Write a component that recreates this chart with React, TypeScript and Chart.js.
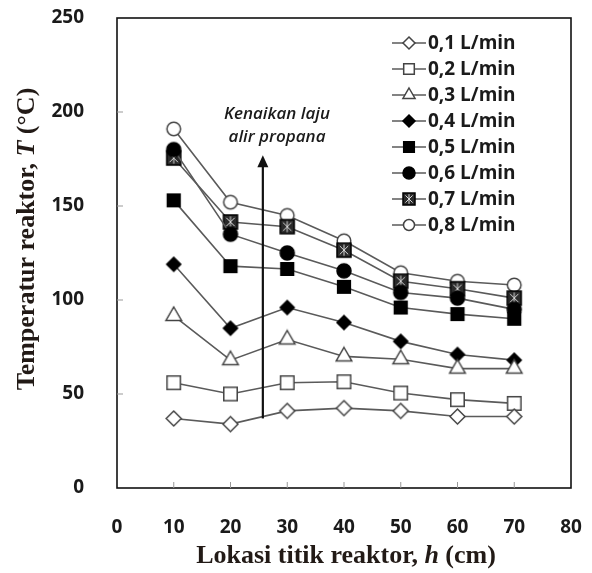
import React, { useEffect, useRef } from "react";
import { Chart, registerables } from "chart.js";

Chart.register(...registerables);

const positions = [10, 20, 30, 40, 50, 60, 70];
const flowLabels = ["0,1 L/min", "0,2 L/min", "0,3 L/min", "0,4 L/min", "0,5 L/min", "0,6 L/min", "0,7 L/min", "0,8 L/min"];
const t01 = [37, 34, 41, 42.5, 41, 38, 38];
const t02 = [56, 50, 56, 56.5, 50.5, 47, 45];
const t03 = [91.5, 68, 79, 70, 68.5, 63.5, 63.5];
const t04 = [119, 85, 96, 88, 78, 71, 68];
const t05 = [153, 118, 116.5, 107, 96, 92.5, 90];
const t06 = [180, 135, 125, 115.5, 104, 101, 95];
const t07 = [175.5, 141.5, 139, 126.5, 110, 106, 101];
const t08 = [191, 152, 145, 131.5, 114.5, 110, 108];
const seriesValues = [t01, t02, t03, t04, t05, t06, t07, t08];
const xTicks = [0, 10, 20, 30, 40, 50, 60, 70, 80];
const yTicks = [0, 50, 100, 150, 200, 250];
const annotationLines = ["Kenaikan laju", "alir propana"];

type MarkerSpec = { style: string; filled: boolean; r: number; lr: number };
const markers: MarkerSpec[] = [
  { style: "diamond", filled: false, r: 7.5, lr: 6 },
  { style: "square", filled: false, r: 9.5, lr: 7.5 },
  { style: "triangle", filled: false, r: 9, lr: 7 },
  { style: "diamond", filled: true, r: 7, lr: 6 },
  { style: "square", filled: true, r: 9, lr: 7.5 },
  { style: "circle", filled: true, r: 7, lr: 6 },
  { style: "star", filled: true, r: 7, lr: 6 },
  { style: "circle", filled: false, r: 6.8, lr: 5.5 },
];

const LINE = "#5a5a5a";
const EDGE = "#444";

function drawMarker(ctx: CanvasRenderingContext2D, m: MarkerSpec, x: number, y: number, r: number) {
  ctx.save();
  ctx.lineWidth = 1.5;
  ctx.strokeStyle = m.filled ? "#000" : EDGE;
  ctx.fillStyle = m.filled ? "#000" : "#fff";
  ctx.beginPath();
  if (m.style === "diamond") {
    ctx.moveTo(x, y - r); ctx.lineTo(x + r, y); ctx.lineTo(x, y + r); ctx.lineTo(x - r, y); ctx.closePath();
  } else if (m.style === "square" || m.style === "star") {
    const h = m.style === "star" ? r : r * Math.SQRT1_2;
    ctx.rect(x - h, y - h, 2 * h, 2 * h);
  } else if (m.style === "triangle") {
    ctx.moveTo(x, y - r);
    ctx.lineTo(x + r * 0.866, y + r * 0.5);
    ctx.lineTo(x - r * 0.866, y + r * 0.5);
    ctx.closePath();
  } else {
    ctx.arc(x, y, r, 0, Math.PI * 2);
  }
  if (m.style === "star") ctx.fillStyle = "#2a2a2a";
  ctx.fill();
  ctx.stroke();
  if (m.style === "star") {
    ctx.strokeStyle = "#d8d8d8";
    ctx.lineWidth = 1;
    const a = r * 0.6;
    ctx.beginPath();
    ctx.moveTo(x - a, y - a); ctx.lineTo(x + a, y + a);
    ctx.moveTo(x + a, y - a); ctx.lineTo(x - a, y + a);
    ctx.moveTo(x, y - r * 0.8); ctx.lineTo(x, y + r * 0.8);
    ctx.stroke();
  }
  ctx.restore();
}

function markerCanvas(m: MarkerSpec): HTMLCanvasElement {
  const dpr = window.devicePixelRatio || 1;
  const size = Math.ceil(m.r * 2 + 4);
  const c = document.createElement("canvas");
  c.width = size * dpr;
  c.height = size * dpr;
  c.style.width = size + "px";
  c.style.height = size + "px";
  const ctx = c.getContext("2d")!;
  ctx.scale(dpr, dpr);
  drawMarker(ctx, m, size / 2, size / 2, m.r);
  return c;
}

function drawRich(ctx: CanvasRenderingContext2D, parts: { t: string; font: string }[], cx: number, cy: number) {
  let total = 0;
  for (const p of parts) { ctx.font = p.font; total += ctx.measureText(p.t).width; }
  let x = cx - total / 2;
  ctx.textAlign = "left";
  ctx.textBaseline = "middle";
  for (const p of parts) { ctx.font = p.font; ctx.fillText(p.t, x, cy); x += ctx.measureText(p.t).width; }
}

const decorPlugin = {
  id: "decor",
  afterDraw(chart: any) {
    const { ctx, chartArea: a, scales } = chart;
    const xs = scales.x, ys = scales.y;
    ctx.save();
    ctx.strokeStyle = "#111";
    ctx.lineWidth = 1.6;
    ctx.strokeRect(a.left, a.top, a.right - a.left, a.bottom - a.top);
    ctx.strokeStyle = "#999";
    ctx.lineWidth = 1;
    ctx.beginPath();
    for (const v of xTicks.slice(1, -1)) {
      const px = xs.getPixelForValue(v);
      ctx.moveTo(px, a.bottom); ctx.lineTo(px, a.bottom - 6);
    }
    for (const v of yTicks.slice(1, -1)) {
      const py = ys.getPixelForValue(v);
      ctx.moveTo(a.left, py); ctx.lineTo(a.left + 6, py);
    }
    ctx.stroke();

    const ax = xs.getPixelForValue(25.7);
    const y0 = ys.getPixelForValue(37);
    const y1 = ys.getPixelForValue(177);
    ctx.strokeStyle = "#111";
    ctx.fillStyle = "#111";
    ctx.lineWidth = 2.2;
    ctx.beginPath();
    ctx.moveTo(ax, y0); ctx.lineTo(ax, y1 + 10);
    ctx.stroke();
    ctx.beginPath();
    ctx.moveTo(ax, y1); ctx.lineTo(ax + 5.5, y1 + 12); ctx.lineTo(ax - 5.5, y1 + 12); ctx.closePath();
    ctx.fill();
    ctx.font = "italic 600 17px 'Open Sans'";
    ctx.textAlign = "center";
    ctx.textBaseline = "middle";
    ctx.fillStyle = "#1a1a1a";
    const tx = xs.getPixelForValue(28.2);
    ctx.fillText(annotationLines[0], tx, ys.getPixelForValue(199));
    ctx.fillText(annotationLines[1], tx, ys.getPixelForValue(186.8));

    const lx0 = a.right - 179;
    const ly0 = a.top + 25;
    for (let i = 0; i < flowLabels.length; i++) {
      const ly = ly0 + i * 26;
      ctx.strokeStyle = LINE;
      ctx.lineWidth = 1.5;
      ctx.beginPath();
      ctx.moveTo(lx0, ly); ctx.lineTo(lx0 + 34, ly);
      ctx.stroke();
      drawMarker(ctx, markers[i], lx0 + 17, ly, markers[i].lr);
      ctx.font = "bold 19px 'Open Sans'";
      ctx.fillStyle = "#1a1a1a";
      ctx.textAlign = "left";
      ctx.textBaseline = "middle";
      ctx.fillText(flowLabels[i], lx0 + 36, ly + 1);
    }

    ctx.fillStyle = "#221a16";
    const serifB = "bold 26px 'Liberation Serif'";
    const serifBI = "bold italic 26px 'Liberation Serif'";
    drawRich(ctx, [
      { t: "Lokasi titik reaktor, ", font: serifB },
      { t: "h", font: serifBI },
      { t: " (cm)", font: serifB },
    ], 346, 556);
    ctx.save();
    ctx.translate(27, 239);
    ctx.rotate(-Math.PI / 2);
    drawRich(ctx, [
      { t: "Temperatur reaktor, ", font: serifB },
      { t: "T", font: serifBI },
      { t: " (°C)", font: serifB },
    ], 0, 0);
    ctx.restore();
    ctx.restore();
  },
};

function zeroPad(s: any) {
  s.paddingTop = 0;
  s.paddingBottom = 0;
  s.paddingLeft = 0;
  s.paddingRight = 0;
}

export default function App() {
  const ref = useRef<HTMLCanvasElement>(null);
  useEffect(() => {
    document.body.style.margin = "0";
    const canvas = ref.current!;
    const datasets = seriesValues.map((vals, i) => {
      const m = markers[i];
      return {
        label: flowLabels[i],
        data: positions.map((p, j) => ({ x: p, y: vals[j] })),
        borderColor: LINE,
        borderWidth: 1.6,
        pointStyle: markerCanvas(m) as any,
        pointRadius: m.r,
        pointHoverRadius: m.r,
        backgroundColor: m.filled ? "#000" : "#fff",
        fill: false,
        tension: 0,
      };
    });
    const chart = new Chart(canvas, {
      type: "line",
      data: { datasets },
      options: {
        responsive: false,
        animation: false,
        layout: { padding: { top: 18, right: 21, left: 0, bottom: 0 } },
        plugins: { legend: { display: false }, tooltip: { enabled: false } },
        scales: {
          x: {
            type: "linear",
            min: 0,
            max: 80,
            afterBuildTicks: (s: any) => { s.ticks = xTicks.map((v) => ({ value: v })); },
            afterFit: (s: any) => { s.height = 85; zeroPad(s); },
            grid: { display: false },
            border: { display: false },
            ticks: { padding: 20, color: "#1a1a1a", font: { family: "'Open Sans'", weight: "bold", size: 19 }, maxRotation: 0 },
          },
          y: {
            type: "linear",
            min: 0,
            max: 250,
            afterBuildTicks: (s: any) => { s.ticks = yTicks.map((v) => ({ value: v })); },
            afterFit: (s: any) => { s.width = 117; zeroPad(s); },
            grid: { display: false },
            border: { display: false },
            ticks: { padding: 25, color: "#1a1a1a", font: { family: "'Open Sans'", weight: "bold", size: 19 } },
          },
        },
      },
      plugins: [decorPlugin],
    });
    return () => chart.destroy();
  }, []);
  return (
    <div style={{ position: "absolute", left: 0, top: 0, width: 592, height: 573, background: "#fff" }}>
      <canvas ref={ref} width={592} height={573} style={{ width: 592, height: 573 }} />
    </div>
  );
}
